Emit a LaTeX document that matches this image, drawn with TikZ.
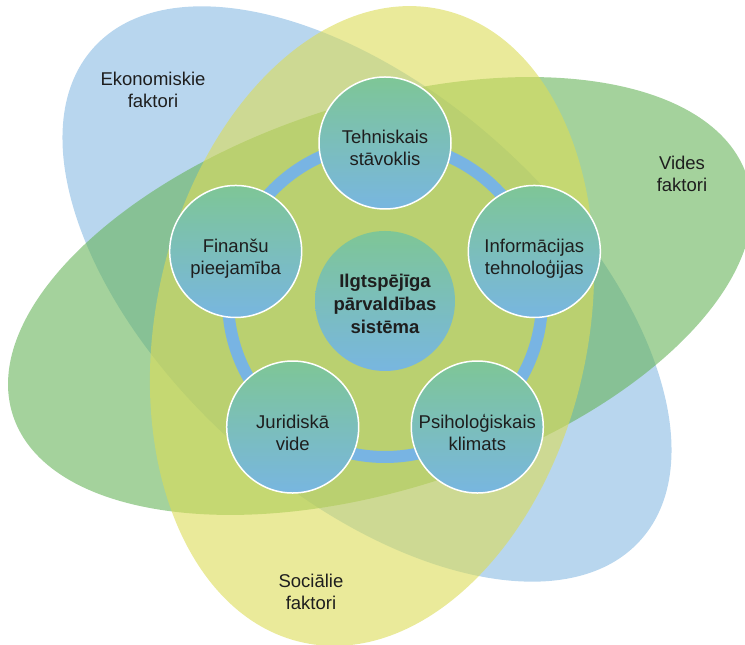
\documentclass[tikz,border=0pt]{standalone}
\usepackage{fontspec}
\setmainfont{Liberation Sans}
\definecolor{econblue}{RGB}{137,187,227}
\definecolor{envgreen}{RGB}{103,180,90}
\definecolor{socyellow}{RGB}{220,220,87}
\definecolor{ballgreen}{RGB}{126,198,150}
\definecolor{ballblue}{RGB}{120,182,224}
\definecolor{ringblue}{RGB}{120,180,227}
\definecolor{inktext}{RGB}{30,30,30}
% centred lines, first line raised by a strut of the given height
\newcommand{\stacktext}[2][15.4pt]{%
  \begin{tabular}{@{}c@{}}\rule{0pt}{#1}#2\end{tabular}}

\begin{document}
\begin{tikzpicture}[x=1pt,y=1pt,
  petal/.style={fill opacity=0.6},
  ball/.style={circle, draw=white, line width=1.5pt, minimum size=132pt,
    inner sep=0pt, top color=ballgreen, bottom color=ballblue,
    text=inktext, font=\fontsize{18.5}{22}\selectfont},
  hubball/.style={ball, draw=none, minimum size=140pt,
    font=\fontsize{18.5}{22.7}\selectfont\bfseries},
  outer/.style={inner sep=0pt, text=inktext,
    font=\fontsize{18.5}{22}\selectfont}]
  \clip (0,0) rectangle (745,645);
  % the three factor ellipses
  \fill[petal, econblue, shift={(367,351)}, rotate=-42]
    (0,0) ellipse [x radius=368, y radius=200];
  \fill[petal, envgreen, shift={(380,349)}, rotate=18]
    (0,0) ellipse [x radius=386, y radius=193];
  \fill[petal, socyellow, shift={(372,319)}, rotate=-12.3]
    (0,0) ellipse [x radius=216, y radius=324];
  \node[outer] (econ) at (153,552.4) {\stacktext{Ekonomiskie\\faktori}};
  \node[outer] (env) at (682,468.4) {\stacktext{Vides\\faktori}};
  \node[outer] (social) at (311,51.1) {\stacktext{Sociālie\\faktori}};
  % hub and ring
  \coordinate (ringc) at (385,345);
  \node[hubball] (hub) at ([yshift=-1]ringc)
    {\stacktext[26.2pt]{Ilgtspējīga\\pārvaldības\\sistēma}};
  \draw[ringblue, line width=12pt] (ringc) circle [radius=157];
  \node[ball] (tech) at ([shift={(90:157)}]ringc)
    {\stacktext[30.6pt]{Tehniskais\\stāvoklis}};
  \node[ball] (info) at ([shift={(18:157)}]ringc)
    {\stacktext[30.6pt]{Informācijas\\tehnoloģijas}};
  \node[ball] (psych) at ([shift={(-54:157)}]ringc)
    {\stacktext[30.6pt]{Psiholoģiskais\\klimats}};
  \node[ball] (legal) at ([shift={(-126:157)}]ringc)
    {\stacktext[30.6pt]{Juridiskā\\vide}};
  \node[ball] (fin) at ([shift={(162:157)}]ringc)
    {\stacktext[30.6pt]{Finanšu\\pieejamība}};
\end{tikzpicture}
\end{document}
